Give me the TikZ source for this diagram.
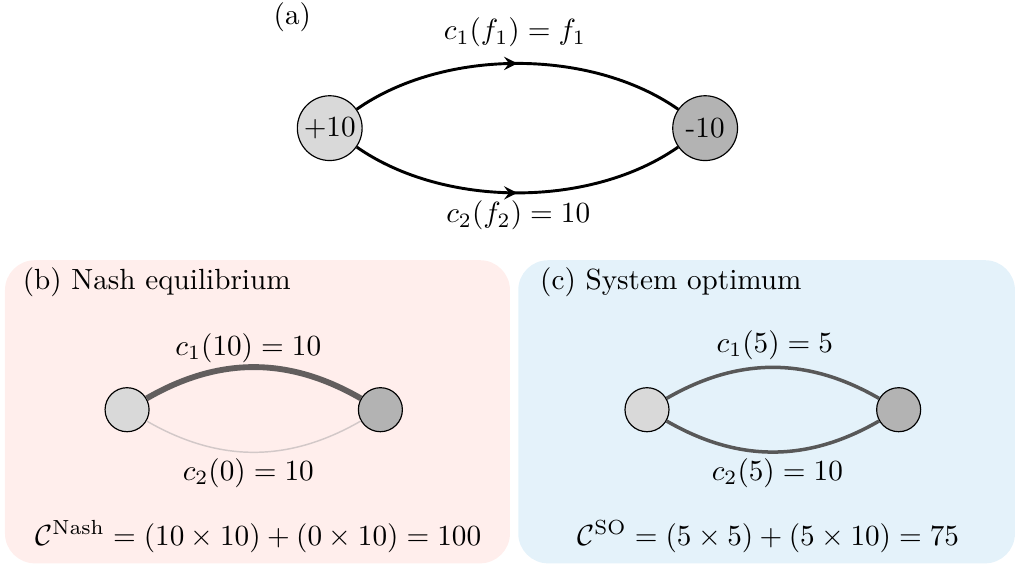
\documentclass[tikz,border=0pt]{standalone}
\usetikzlibrary{decorations.markings}
\definecolor{nashbg}{RGB}{255,238,236}
\definecolor{sobg}{RGB}{228,242,250}
\definecolor{srcgray}{RGB}{217,217,217}
\definecolor{sinkgray}{RGB}{179,179,179}
\definecolor{flowdark}{RGB}{98,94,94}
\definecolor{flowlight}{RGB}{210,200,200}
\definecolor{flowso}{RGB}{88,88,88}
\tikzset{
  bignode/.style={circle, draw, thin, minimum size=0.78cm, inner sep=0pt},
  smallnode/.style={circle, draw, thin, minimum size=0.53cm, inner sep=0pt},
  flowarrow/.style={line width=1pt, postaction={decorate},
    decoration={markings, mark=at position 0.5 with {\arrow{stealth}}}},
  panel/.style={rounded corners=0.36cm}
}
\begin{document}
\begin{tikzpicture}
\useasboundingbox (0,0) rectangle (12.245,6.803);
\fill[nashbg, panel] (0.06,0.02) rectangle (6.14,3.67);
\fill[sobg, panel] (6.24,0.02) rectangle (12.22,3.67);

% (a) the network
\node (tagA) at (3.52,6.59) {(a)};
\node[bignode, fill=srcgray] (src) at (3.97,5.26) {+10};
\node[bignode, fill=sinkgray] (snk) at (8.49,5.26) {-10};
\draw[flowarrow] (src) to[out=35,in=145,looseness=0.85] (snk);
\draw[flowarrow] (src) to[out=-35,in=-145,looseness=0.85] (snk);
\node (costA1) at (6.20,6.41) {$c_1(f_1) = f_1$};
\node (costA2) at (6.24,4.21) {$c_2(f_2) = 10$};

% (b) Nash equilibrium
\node[anchor=west] (tagB) at (0.15,3.40) {(b) Nash equilibrium};
\node[smallnode, fill=srcgray] (srcB) at (1.53,1.87) {};
\node[smallnode, fill=sinkgray] (snkB) at (4.58,1.87) {};
\draw[flowdark, line width=2pt] (srcB) to[out=30,in=150] (snkB);
\draw[flowlight, line width=0.5pt] (srcB) to[out=-30,in=-150] (snkB);
\node (costB1) at (2.99,2.61) {$c_1(10) = 10$};
\node (costB2) at (2.99,1.11) {$c_2(0) = 10$};
\node (totB) at (3.11,0.34) {$\mathcal{C}^{\mathrm{Nash}} = (10 \times 10) + (0 \times 10) = 100$};

% (c) System optimum
\node[anchor=west] (tagC) at (6.38,3.40) {(c) System optimum};
\node[smallnode, fill=srcgray] (srcC) at (7.79,1.87) {};
\node[smallnode, fill=sinkgray] (snkC) at (10.82,1.87) {};
\draw[flowso, line width=1.2pt] (srcC) to[out=30,in=150] (snkC);
\draw[flowso, line width=1.2pt] (srcC) to[out=-30,in=-150] (snkC);
\node (costC1) at (9.33,2.65) {$c_1(5) = 5$};
\node (costC2) at (9.36,1.11) {$c_2(5) = 10$};
\node (totC) at (9.25,0.34) {$\mathcal{C}^{\mathrm{SO}} = (5 \times 5) + (5 \times 10) = 75$};
\end{tikzpicture}
\end{document}
